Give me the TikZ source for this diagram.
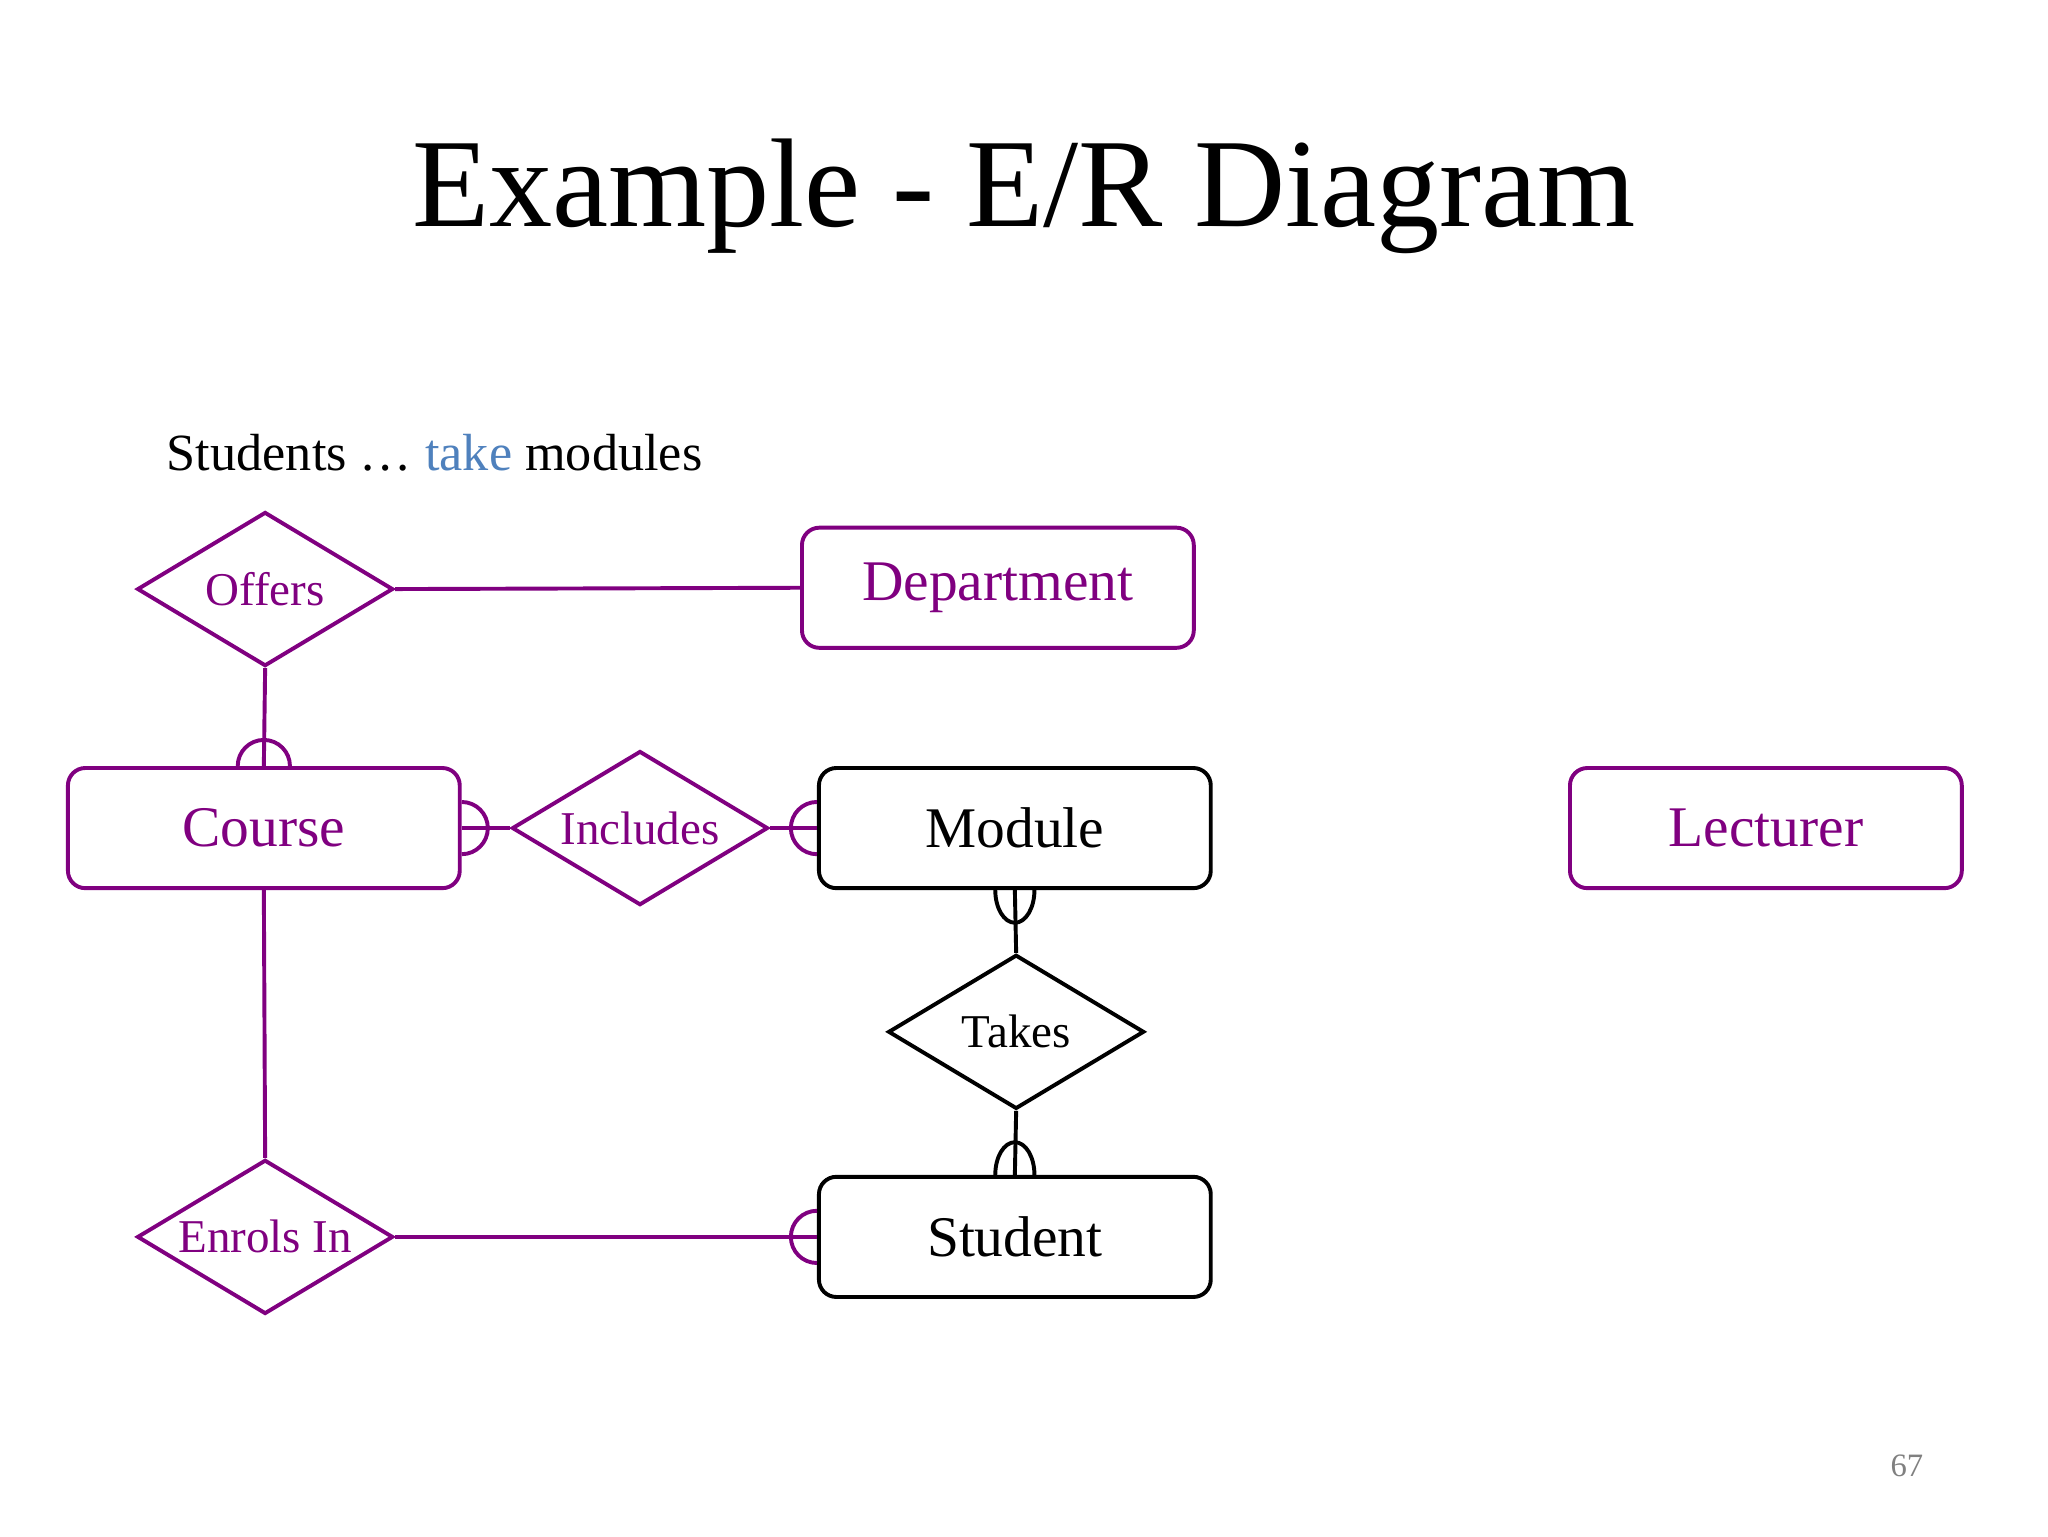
\documentclass[tikz,border=0pt]{standalone}
\usepackage{fontspec}
\setmainfont{Liberation Serif}
\usetikzlibrary{shapes.geometric}
\definecolor{erp}{HTML}{800080}
\definecolor{takeblue}{HTML}{4F81BD}
\begin{document}
\begin{tikzpicture}[x=0.3pt,y=0.3pt,
  ent/.style={draw,line width=0.9pt,rounded corners=4pt,minimum width=90pt,minimum height=27.6pt,inner sep=0pt,font=\fontsize{13.2}{15}\selectfont},
  rel/.style={draw,line width=0.9pt,diamond,aspect=1.66,minimum width=58.8pt,minimum height=35.4pt,inner sep=0pt,font=\fontsize{10.8}{12}\selectfont},
  pl/.style={erp,text=erp},
  bl/.style={black,text=black},
  ln/.style={line width=0.9pt}]
\useasboundingbox (0,0) rectangle (1568,1176);
\node (title) at (784,1026) {\fontsize{29}{34}\selectfont Example - E/R Diagram};
\node[anchor=west] (sub) at (116,829) {\fontsize{12}{14}\selectfont Students \dots\ \textcolor{takeblue}{take} modules};
\node[rel,pl] (offers) at (203,725) {Offers};
\node[ent,pl] (dept) at (764,726) {Department};
\node[ent,pl] (course) at (202,542) {Course};
\node[rel,pl] (incl) at (490,542) {Includes};
\node[ent,bl] (module) at (777,542) {Module};
\node[ent,pl] (lect) at (1352,542) {Lecturer};
\node[rel,bl] (takes) at (778,386) {Takes};
\node[ent,bl] (student) at (777,229) {Student};
\node[rel,pl] (enrols) at (203,229) {Enrols In};
\node[text=gray] (pg) at (1460,54) {\fontsize{7.5}{9}\selectfont 67};
\draw[ln,erp] (offers.east) -- (dept.west);
\draw[ln,erp] (offers.south) -- (course.north);
\draw[ln,erp] (course.east) -- (incl.west);
\draw[ln,erp] (incl.east) -- (module.west);
\draw[ln,erp] (course.south) -- (enrols.north);
\draw[ln,erp] (enrols.east) -- (student.west);
\draw[ln] (module.south) -- (takes.north);
\draw[ln] (takes.south) -- (student.north);
\draw[ln,erp] ([xshift=6pt]course.north) arc[start angle=0,end angle=180,radius=6pt];
\draw[ln,erp] ([yshift=-6pt]course.east) arc[start angle=-90,end angle=90,radius=6pt];
\draw[ln,erp] ([yshift=6pt]module.west) arc[start angle=90,end angle=270,radius=6pt];
\draw[ln,erp] ([yshift=6pt]student.west) arc[start angle=90,end angle=270,radius=6pt];
\draw[ln] ([xshift=-4.5pt]module.south) arc[start angle=180,end angle=360,x radius=4.5pt,y radius=7.5pt];
\draw[ln] ([xshift=4.5pt]student.north) arc[start angle=0,end angle=180,x radius=4.5pt,y radius=7.5pt];
\end{tikzpicture}
\end{document}
